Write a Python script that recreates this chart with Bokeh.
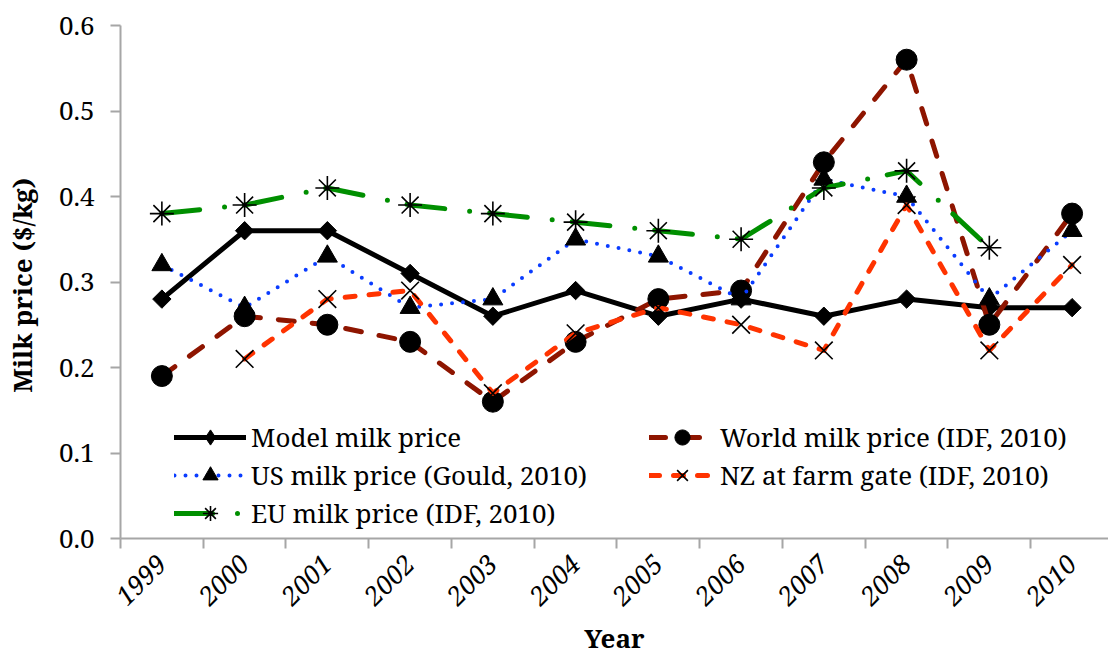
import math
import numpy as np
from bokeh.plotting import figure
from bokeh.models import (Range1d, FixedTicker, Legend, LegendItem, ColumnDataSource,
                          NumeralTickFormatter)
from bokeh.embed import file_html
from bokeh.resources import INLINE

years = [1999, 2000, 2001, 2002, 2003, 2004, 2005, 2006, 2007, 2008, 2009, 2010]
model_price = [0.28, 0.36, 0.36, 0.31, 0.26, 0.29, 0.26, 0.28, 0.26, 0.28, 0.27, 0.27]
world_price = [0.19, 0.26, 0.25, 0.23, 0.16, 0.23, 0.28, 0.29, 0.44, 0.56, 0.25, 0.38]
us_price = [0.32, 0.27, 0.33, 0.27, 0.28, 0.35, 0.33, 0.28, 0.42, 0.40, 0.28, 0.36]
nz_price = [None, 0.21, 0.28, 0.29, 0.17, 0.24, 0.27, 0.25, 0.22, 0.39, 0.22, 0.32]
eu_price = [0.38, 0.39, 0.41, 0.39, 0.38, 0.37, 0.36, 0.35, 0.41, 0.43, 0.34, None]
y_ticks = [0.0, 0.1, 0.2, 0.3, 0.4, 0.5, 0.6]

FONT = "Noto Serif"
FSIZE = "26px"
AXIS_GREY = "#A6A6A6"

p = figure(width=1108, height=659, output_backend="svg", toolbar_location=None,
           x_range=Range1d(1998.5, 2010.44), y_range=Range1d(0, 0.6),
           min_border_left=118, min_border_right=0, min_border_top=25,
           min_border_bottom=118)
p.outline_line_color = None
p.xgrid.visible = False
p.ygrid.visible = False
p.background_fill_color = "white"
p.border_fill_color = "white"


def clean(vals):
    return np.array([np.nan if v is None else v for v in vals], dtype=float)


def series(vals, color, width, dash, marker, msize, mfill, mline, angle=0.0):
    src = ColumnDataSource(dict(x=years, y=clean(vals)))
    ln = p.line("x", "y", source=src, line_color=color, line_width=width,
                line_dash=dash, line_cap="round", line_join="round")
    sc = p.scatter("x", "y", source=src, marker=marker, size=msize,
                   fill_color=mfill, line_color="black", line_width=mline,
                   angle=angle)
    return [ln, sc]


r_model = series(model_price, "black", 5, "solid", "square", 13, "black", 1,
                 angle=math.pi / 4)
r_world = series(world_price, "#8E1500", 5, "16 18", "circle", 21, "black", 1)
r_us = series(us_price, "#0A3CFF", 4, "0 11", "triangle", 20, "black", 1)
r_nz = series(nz_price, "#FF3300", 5, "10 14", "x", 25, None, 1.6)
r_eu = series(eu_price, "#008F00", 5, "38 25 0 20", "asterisk", 24, None, 1.6)

# legend-only diamond key for the model series
model_key = p.scatter(x=[np.nan], y=[np.nan], marker="diamond", size=18,
                      fill_color="black", line_color="black")

# y axis
p.yaxis.ticker = FixedTicker(ticks=y_ticks)
p.yaxis.formatter = NumeralTickFormatter(format="0.0")
p.yaxis.minor_tick_line_color = None
p.yaxis.major_tick_in = 0
p.yaxis.major_tick_out = 10
p.yaxis.major_tick_line_color = AXIS_GREY
p.yaxis.major_tick_line_width = 2
p.yaxis.axis_line_color = AXIS_GREY
p.yaxis.axis_line_width = 2
p.yaxis.major_label_text_font = FONT
p.yaxis.major_label_text_font_size = FSIZE
p.yaxis.major_label_text_color = "black"
p.yaxis.major_label_standoff = 16
p.yaxis.axis_label = "Milk  price ($/kg)"
p.yaxis.axis_label_text_font = FONT
p.yaxis.axis_label_text_font_style = "bold"
p.yaxis.axis_label_text_font_size = FSIZE
p.yaxis.axis_label_text_color = "black"
p.yaxis.axis_label_standoff = 16

# x axis: labels at category centres, tick marks between categories
boundaries = [y - 0.5 for y in years] + [years[-1] + 0.5]
p.xaxis.ticker = FixedTicker(ticks=years, minor_ticks=boundaries)
p.xaxis.major_label_overrides = {y: str(y) for y in years}
p.xaxis.major_tick_line_color = None
p.xaxis.major_tick_in = 0
p.xaxis.major_tick_out = 0
p.xaxis.minor_tick_line_color = AXIS_GREY
p.xaxis.minor_tick_line_width = 2
p.xaxis.minor_tick_in = 0
p.xaxis.minor_tick_out = 10
p.xaxis.axis_line_color = AXIS_GREY
p.xaxis.axis_line_width = 2
p.xaxis.major_label_orientation = math.pi / 4
p.xaxis.major_label_text_font = FONT
p.xaxis.major_label_text_font_size = FSIZE
p.xaxis.major_label_text_font_style = "italic"
p.xaxis.major_label_text_color = "black"
p.xaxis.major_label_standoff = 11
p.xaxis.axis_label = "Year"
p.xaxis.axis_label_text_font = FONT
p.xaxis.axis_label_text_font_style = "bold"
p.xaxis.axis_label_text_font_size = FSIZE
p.xaxis.axis_label_text_color = "black"
p.xaxis.axis_label_standoff = 4


def make_legend(items, loc, glyph_w):
    lg = Legend(items=items, location=loc, orientation="vertical",
                glyph_width=glyph_w, glyph_height=38, label_height=38,
                label_standoff=5, spacing=0, padding=0, margin=0,
                border_line_color=None, background_fill_alpha=0,
                label_text_font=FONT, label_text_font_size=FSIZE,
                label_text_color="black")
    p.add_layout(lg, "center")


make_legend([LegendItem(label="Model milk price", renderers=[r_model[0], model_key]),
             LegendItem(label="US milk price (Gould, 2010)", renderers=r_us),
             LegendItem(label="EU milk price (IDF, 2010)", renderers=r_eu)],
            (54, 6), 72)
make_legend([LegendItem(label="World milk price (IDF, 2010)", renderers=r_world),
             LegendItem(label="NZ at farm gate (IDF, 2010)", renderers=r_nz)],
            (529, 44), 66)

open("out.html", "w").write(file_html(p, INLINE))
